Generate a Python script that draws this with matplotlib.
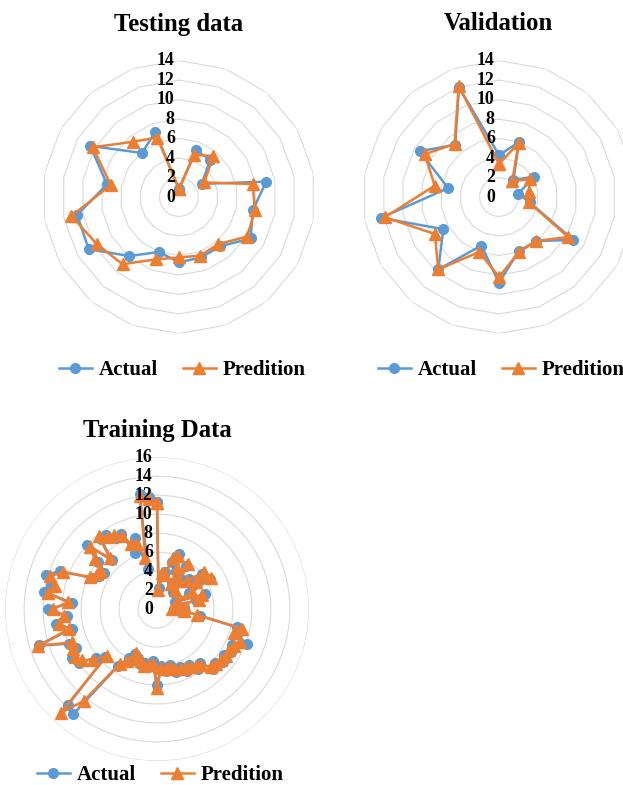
import numpy as np
import matplotlib
matplotlib.use("Agg")
import matplotlib.pyplot as plt
import matplotlib.transforms as mtransforms
from matplotlib.lines import Line2D

plt.rcParams['font.family'] = ['Liberation Serif', 'DejaVu Serif']
plt.rcParams['font.weight'] = 'bold'

actual_test = [0.85, 5.1, 5.0, 2.7, 9.1, 7.7, 8.5, 6.6, 6.6, 6.7, 6.0, 7.9, 10.7, 10.6, 7.5, 10.5, 5.9, 7.1]
pred_test = [0.8, 4.6, 5.5, 3.0, 7.7, 7.9, 8.1, 6.3, 6.4, 6.2, 6.8, 9.0, 9.7, 11.2, 7.1, 10.2, 7.4, 6.5]

actual_val = [4.3, 6.0, 2.3, 4.2, 2.0, 3.2, 8.8, 5.9, 5.9, 8.8, 5.3, 9.7, 6.6, 12.3, 5.3, 9.4, 7.0, 12.0]
pred_val = [3.4, 5.9, 2.1, 3.7, 3.1, 3.1, 8.2, 5.9, 6.0, 8.2, 6.0, 9.7, 7.6, 11.9, 6.7, 8.8, 7.1, 12.1]

actual_train = [11.3, 2.2, 3.5, 4.0, 5.2, 6.2, 4.5, 3.2, 5.5, 4.0,
                2.5, 4.6, 6.0, 5.2, 6.4, 3.8, 2.0, 5.3, 4.2, 2.0,
                2.8, 1.8, 2.6, 4.6, 8.6, 8.8, 10.2, 8.8, 9.0, 8.5,
                8.9, 8.3, 8.6, 7.2, 7.6, 6.8, 7.2, 6.5, 6.9, 6.0,
                6.6, 6.0, 8.0, 5.5, 6.2, 5.8, 6.0, 5.5, 5.3, 6.0,
                7.2, 14.2, 13.8, 7.4, 8.2, 10.0, 10.3, 9.5, 10.0, 13.0,
                9.2, 10.8, 9.5, 11.5, 9.0, 12.0, 11.5, 12.2, 11.0, 7.5,
                7.0, 6.8, 8.0, 10.0, 7.0, 9.5, 9.5, 8.6, 8.8, 6.4,
                7.8, 4.3, 12.3, 11.8]
pred_train = [11.2, 2.0, 3.8, 3.7, 5.6, 6.0, 4.8, 3.0, 5.8, 3.8,
              2.8, 4.3, 6.3, 5.0, 6.6, 4.1, 2.3, 5.0, 4.5, 2.2,
              3.0, 1.6, 2.9, 4.3, 9.2, 8.5, 9.4, 9.0, 8.7, 8.8,
              8.6, 8.5, 8.3, 7.5, 7.3, 7.0, 6.9, 6.8, 6.6, 6.3,
              6.4, 6.2, 8.3, 5.8, 6.0, 6.1, 5.7, 5.7, 5.1, 6.3,
              7.0, 12.4, 14.9, 7.2, 8.6, 9.6, 10.0, 9.8, 9.6, 13.1,
              9.5, 10.4, 9.8, 11.0, 9.4, 11.6, 11.0, 11.8, 10.6, 7.8,
              7.3, 7.1, 8.4, 9.6, 7.3, 9.8, 9.2, 9.0, 8.5, 7.4,
              7.2, 5.5, 12.0, 11.6]

blue = '#5B9BD5'
orange = '#ED7D31'


def radar(ax, actual, pred, rmax):
    n = len(actual)
    theta = np.linspace(0, 2 * np.pi, n, endpoint=False)
    ax.set_theta_zero_location('N')
    ax.set_theta_direction(-1)
    ax.set_ylim(0, rmax)
    ax.grid(False)
    ax.set_xticks([])
    ax.set_yticks([])
    ax.spines['polar'].set_visible(False)
    # value rings follow the category count (polygons, near-circles for many points)
    ring_t = np.append(theta, theta[0])
    for v in range(2, rmax + 1, 2):
        ax.plot(ring_t, [v] * len(ring_t), color='#d9d9d9', lw=0.8, zorder=1)
    off = mtransforms.offset_copy(ax.transData, fig=ax.figure, x=-3, y=0, units='points')
    for v in range(0, rmax + 1, 2):
        ax.text(0, v, str(v), transform=off, ha='right', va='center',
                fontsize=12.8, fontweight='bold', zorder=5)
    a = np.append(actual, actual[0])
    p = np.append(pred, pred[0])
    ax.plot(ring_t, a, color=blue, lw=1.8, marker='o', ms=7, zorder=3, clip_on=False)
    ax.plot(ring_t, p, color=orange, lw=1.8, marker='^', ms=8, zorder=4, clip_on=False)


fig = plt.figure(figsize=(6.23, 7.85), dpi=100)

ax1 = fig.add_axes([0.0682, 0.575, 0.438, 0.348], projection='polar')
radar(ax1, actual_test, pred_test, 14)
ax2 = fig.add_axes([0.582, 0.575, 0.438, 0.348], projection='polar')
radar(ax2, actual_val, pred_val, 14)
ax3 = fig.add_axes([0.008, 0.0306, 0.488, 0.387], projection='polar')
radar(ax3, actual_train, pred_train, 16)

fig.text(179 / 623, 1 - 24 / 785, 'Testing data', ha='center', va='center', fontsize=17.8, fontweight='bold')
fig.text(498 / 623, 1 - 24 / 785, 'Validation', ha='center', va='center', fontsize=17.8, fontweight='bold')
fig.text(157 / 623, 1 - 430 / 785, 'Training Data', ha='center', va='center', fontsize=17.8, fontweight='bold')

handles = [Line2D([], [], color=blue, lw=1.8, marker='o', ms=7),
           Line2D([], [], color=orange, lw=1.8, marker='^', ms=8)]
labels = ['Actual', 'Predition']
for cx, cy in [(182, 370), (501, 370), (160, 775)]:
    fig.legend(handles, labels, loc='center', bbox_to_anchor=(cx / 623, 1 - cy / 785),
               ncol=2, frameon=False, prop={'size': 15, 'weight': 'bold'},
               handlelength=1.6, handletextpad=0.3, columnspacing=1.2)

fig.savefig('out.png', dpi=100)
